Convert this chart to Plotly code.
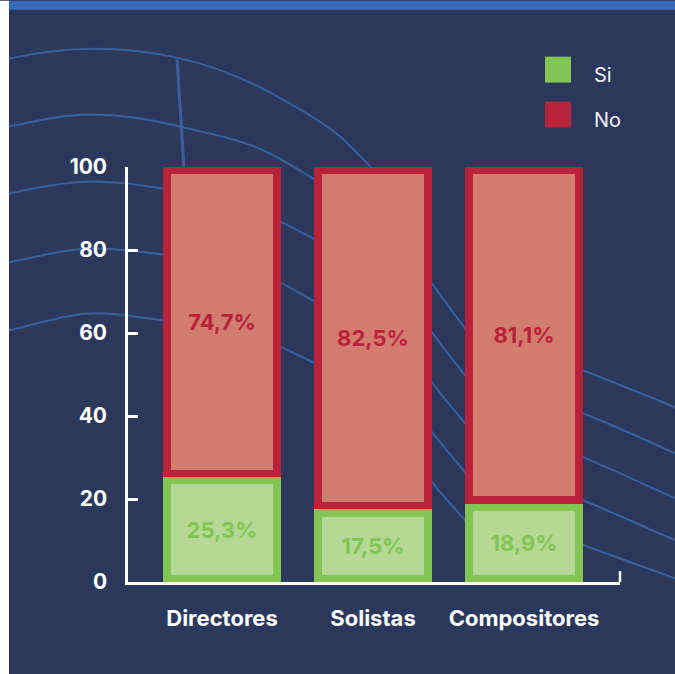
import plotly.graph_objects as go

# --- data -------------------------------------------------------------
categories = ["Directores", "Solistas", "Compositores"]
si_values = [25.3, 17.5, 18.9]
no_values = [74.7, 82.5, 81.1]
y_ticks = [0, 20, 40, 60, 80, 100]

# --- styling ----------------------------------------------------------
W, H = 675, 674
L, R, T, B = 128, 620, 166.5, 582          # plot area in pixels
NAVY = "#2c385b"
TOP_BLUE = "#386bb5"
ARC = "#3a5e9b"
GREEN_EDGE, GREEN_FILL = "#84c455", "#b4d995"
RED_EDGE, RED_FILL = "#b92339", "#d27b6f"
FONT = "Inter"

X_RANGE = [-0.6225, 2.6358]
OUTER_W = 0.7815        # bar width in category units
INNER_W = 0.682
INSET = 1.8             # border thickness in value units


def px(x):
    return (x - L) / (R - L)


def py(y):
    return (B - y) / (B - T)


def fmt(v):
    return f"{v:.1f}".replace(".", ",") + "%"


def hermite_path(pts):
    """Cubic Hermite curve through (x, y, slope) pixel nodes, as an SVG path in paper units."""
    def P(x, y):
        return f"{px(x):.5f},{py(y):.5f}"
    d = "M " + P(pts[0][0], pts[0][1])
    for (x1, y1, s1), (x2, y2, s2) in zip(pts[:-1], pts[1:]):
        h = (x2 - x1) / 3
        d += " C " + P(x1 + h, y1 + s1 * h) + " " + P(x2 - h, y2 - s2 * h) + " " + P(x2, y2)
    return d


# decorative background curves: (x, y, slope) nodes in page pixels
background_curves = [
    [(9, 58, -0.23), (95, 48, 0), (177, 57, 0.22), (283, 99, 0.575), (340, 136, 0.86), (372, 168, 1.08),
     (432, 283, 1.4), (465, 328, 1.3), (583, 370, 0.4), (677, 408, 0.42)],
    [(9, 126, -0.2), (90, 114, 0), (180, 126, 0.25), (270, 153, 0.5), (313, 178, 0.6),
     (432, 332, 1.4), (465, 375, 1.3), (583, 413, 0.4), (677, 454, 0.45)],
    [(9, 193, -0.2), (95, 181, 0), (163, 188, 0.15), (282, 222, 0.5), (313, 238, 0.52),
     (432, 382, 1.4), (465, 423, 1.2), (583, 457, 0.42), (677, 499, 0.45)],
    [(9, 262, -0.2), (95, 248, 0), (163, 254, 0.12), (282, 283, 0.5), (313, 300, 0.52),
     (432, 432, 1.3), (465, 472, 1.2), (583, 500, 0.42), (677, 541, 0.43)],
    [(9, 330, -0.22), (97, 313, 0), (163, 320, 0.12), (282, 347, 0.47), (313, 362, 0.47),
     (432, 482, 1.3), (465, 520, 1.15), (583, 545, 0.37), (677, 579, 0.36)],
]

x_pos = list(range(len(categories)))

fig = go.Figure()

# outer bars carry the border colour, inner bars the lighter fill
fig.add_trace(go.Bar(x=x_pos, y=si_values, base=[0] * 3, width=OUTER_W,
                     marker=dict(color=GREEN_EDGE, line=dict(width=0)), hoverinfo="skip"))
fig.add_trace(go.Bar(x=x_pos, y=no_values, base=si_values, width=OUTER_W,
                     marker=dict(color=RED_EDGE, line=dict(width=0)), hoverinfo="skip"))
fig.add_trace(go.Bar(x=x_pos, y=[v - 2 * INSET for v in si_values], base=[INSET] * 3, width=INNER_W,
                     marker=dict(color=GREEN_FILL, line=dict(width=0)),
                     text=[fmt(v) for v in si_values], textposition="inside", insidetextanchor="middle",
                     textangle=0, constraintext="none",
                     textfont=dict(family=FONT, size=22, color=GREEN_EDGE, weight=700), name="Si"))
fig.add_trace(go.Bar(x=x_pos, y=[v - 2 * INSET for v in no_values], base=[s + INSET for s in si_values],
                     width=INNER_W, marker=dict(color=RED_FILL, line=dict(width=0)),
                     text=[fmt(v) for v in no_values], textposition="inside", insidetextanchor="middle",
                     textangle=0, constraintext="none",
                     textfont=dict(family=FONT, size=22, color=RED_EDGE, weight=700), name="No"))

shapes = [
    # white strip on the left and blue band on top
    dict(type="rect", xref="paper", yref="paper", x0=px(0), x1=px(9), y0=py(H), y1=py(0),
         fillcolor="white", line=dict(width=0), layer="below"),
    dict(type="rect", xref="paper", yref="paper", x0=px(9), x1=px(W), y0=py(9), y1=py(0),
         fillcolor=TOP_BLUE, line=dict(width=0), layer="below"),
]
for nodes in background_curves:
    shapes.append(dict(type="path", xref="paper", yref="paper", path=hermite_path(nodes),
                       line=dict(color=ARC, width=2), layer="below"))
shapes.append(dict(type="line", xref="paper", yref="paper", x0=px(177), y0=py(58), x1=px(186), y1=py(200),
                   line=dict(color=ARC, width=3), layer="below"))
# closing tick at the right end of the x axis
shapes.append(dict(type="line", xref="paper", yref="paper", x0=1, x1=1, y0=0, y1=py(571),
                   line=dict(color="white", width=2.5)))

# legend swatches
legend_items = [("Si", GREEN_EDGE, 56), ("No", RED_EDGE, 101)]
annotations = []
for label, color, top in legend_items:
    shapes.append(dict(type="rect", xref="paper", yref="paper", x0=px(545), x1=px(571),
                       y0=py(top + 26), y1=py(top), fillcolor=color, line=dict(width=0)))
    annotations.append(dict(xref="paper", yref="paper", x=px(592), y=py(top + 18), text=label,
                            showarrow=False, xanchor="left", yanchor="middle",
                            font=dict(family=FONT, size=20, color="#f2f2f7")))

fig.update_layout(
    width=W, height=H,
    margin=dict(l=L, r=W - R, t=T, b=H - B, pad=0),
    paper_bgcolor=NAVY, plot_bgcolor="rgba(0,0,0,0)",
    barmode="overlay", bargap=0, showlegend=False,
    shapes=shapes, annotations=annotations,
    xaxis=dict(range=X_RANGE, tickvals=x_pos, ticktext=categories, showgrid=False, zeroline=False,
               showline=True, linecolor="white", linewidth=2.5, ticks="", ticklabelstandoff=15,
               tickfont=dict(family=FONT, size=22, color="white", weight=700), fixedrange=True),
    yaxis=dict(range=[0, 100], tickvals=y_ticks, showgrid=False, zeroline=False,
               showline=True, linecolor="white", linewidth=2.5, ticks="inside", ticklen=10,
               tickwidth=2.5, tickcolor="white", ticklabelstandoff=14,
               tickfont=dict(family=FONT, size=21, color="white", weight=700), fixedrange=True),
)

fig.write_html("out.html")
